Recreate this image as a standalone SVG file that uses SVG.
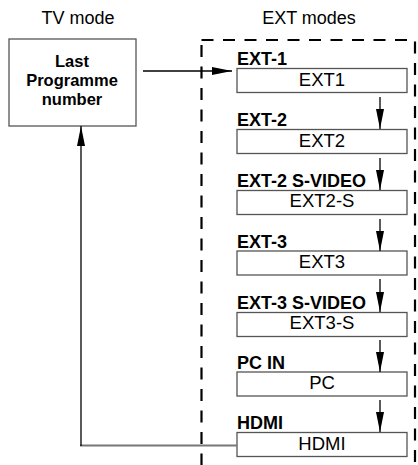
<svg xmlns="http://www.w3.org/2000/svg" width="418" height="465" viewBox="0 0 418 465">
<style>
text{font-family:"Liberation Sans",Arial,sans-serif;fill:#000}
.title{font-size:18px;text-anchor:middle}
.lbl{font-size:18px;font-weight:bold}
.box{fill:#fff;stroke:#555;stroke-width:1.3}
.bt{font-size:18.5px;text-anchor:middle}
.big{font-size:16.5px;font-weight:bold;text-anchor:middle}
.conn{fill:none;stroke:#000;stroke-width:1.3}
</style>
<defs>
<marker id="ah" viewBox="0 0 20 8" refX="20" refY="4" markerWidth="20" markerHeight="8" markerUnits="userSpaceOnUse" orient="auto">
<path d="M0,0 L20,4 L0,8 Z" fill="#000"/>
</marker>
</defs>
<text class="title" x="78" y="24">TV mode</text>
<text class="title" x="309" y="24">EXT modes</text>
<rect x="201.5" y="40" width="213.5" height="440" fill="none" stroke="#000" stroke-width="2.2" stroke-dasharray="12,9.5"/>
<g id="tv">
<rect class="box" x="9" y="39" width="127" height="87"/>
<text class="big" x="72" y="66.5">Last</text>
<text class="big" x="72" y="85.5">Programme</text>
<text class="big" x="72" y="104.5">number</text>
</g>
<g id="ext1"><text class="lbl" x="237" y="65">EXT-1</text><rect class="box" x="237" y="68.5" width="170" height="24"/><text class="bt" x="322" y="86">EXT1</text></g>
<g id="ext2"><text class="lbl" x="237" y="126">EXT-2</text><rect class="box" x="237" y="129.5" width="170" height="24"/><text class="bt" x="322" y="147">EXT2</text></g>
<g id="ext2s"><text class="lbl" x="237" y="187">EXT-2 S-VIDEO</text><rect class="box" x="237" y="190.5" width="170" height="24"/><text class="bt" x="322" y="207">EXT2-S</text></g>
<g id="ext3"><text class="lbl" x="237" y="248">EXT-3</text><rect class="box" x="237" y="251" width="170" height="24"/><text class="bt" x="322" y="268">EXT3</text></g>
<g id="ext3s"><text class="lbl" x="237" y="309">EXT-3 S-VIDEO</text><rect class="box" x="237" y="312.5" width="170" height="24"/><text class="bt" x="322" y="329">EXT3-S</text></g>
<g id="pc"><text class="lbl" x="237" y="369">PC IN</text><rect class="box" x="237" y="372" width="170" height="24"/><text class="bt" x="322" y="389">PC</text></g>
<g id="hdmi"><text class="lbl" x="237" y="429">HDMI</text><rect class="box" x="237" y="432.5" width="170" height="24"/><text class="bt" x="322" y="449.5">HDMI</text></g>
<g id="connectors">
<line class="conn" x1="143" y1="71" x2="232" y2="71" marker-end="url(#ah)"/>
<line class="conn" x1="380" y1="97" x2="380" y2="129" marker-end="url(#ah)"/>
<line class="conn" x1="380" y1="158" x2="380" y2="190" marker-end="url(#ah)"/>
<line class="conn" x1="380" y1="219" x2="380" y2="251" marker-end="url(#ah)"/>
<line class="conn" x1="380" y1="279" x2="380" y2="312" marker-end="url(#ah)"/>
<line class="conn" x1="380" y1="340" x2="380" y2="372" marker-end="url(#ah)"/>
<line class="conn" x1="380" y1="400" x2="380" y2="432" marker-end="url(#ah)"/>
<line x1="80" y1="445.5" x2="237" y2="445.5" stroke="#777" stroke-width="1.8"/>
<line class="conn" x1="81" y1="446" x2="81" y2="126" marker-end="url(#ah)"/>
</g>
</svg>
